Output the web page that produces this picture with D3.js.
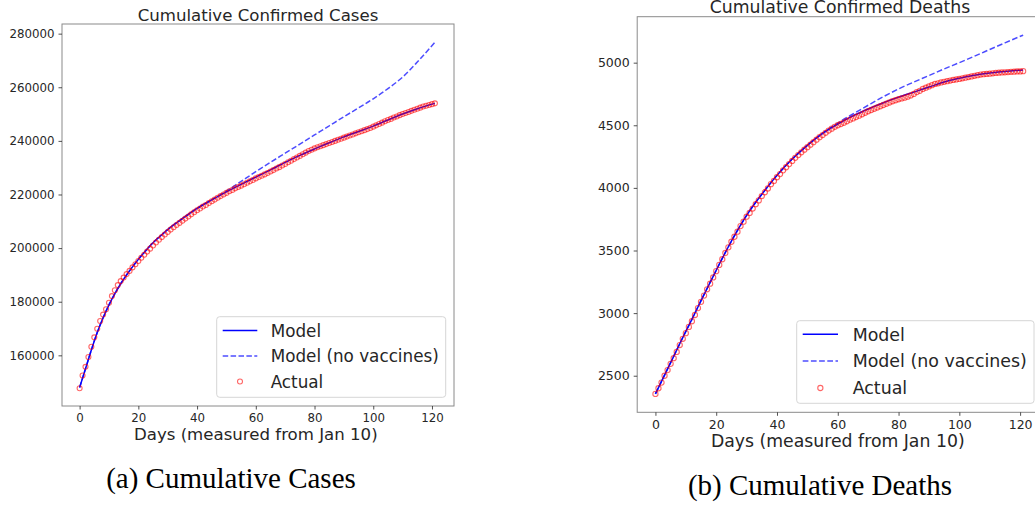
<!DOCTYPE html>
<html>
<head>
<meta charset="utf-8">
<script src="https://cdn.jsdelivr.net/npm/d3@7"></script>
<style>
  html, body { margin: 0; padding: 0; background: #fff; }
  svg { display: block; font-family: "DejaVu Sans", sans-serif; }
</style>
</head>
<body>
<svg id="chart" width="1035" height="505"></svg>
<script>
// ---- Cumulative confirmed cases ----
const casesModelDays = [0, 2, 4, 6, 8, 10, 12, 14, 16, 18, 20, 22, 25, 28, 31, 35, 40, 45, 50, 55, 60, 65, 70, 75, 80, 85, 90, 95, 100, 105, 110, 115, 121];
const casesModel = [148000, 155000, 162000, 168500, 174000, 178800, 183000, 186700, 190000, 193000, 195800, 198400, 202000, 205000, 207800, 211000, 214800, 218000, 221000, 223800, 226500, 229200, 232000, 234600, 237000, 239300, 241500, 243500, 245500, 247800, 250000, 252000, 254000];
const casesNoVax = [148000, 155000, 162000, 168500, 174000, 178800, 183000, 186700, 190000, 193000, 195800, 198400, 202000, 205000, 207800, 211000, 214800, 218000, 221300, 224900, 228500, 232000, 235400, 238800, 242200, 245600, 249000, 252300, 255700, 259500, 263800, 269400, 276800];
const casesActual = [
  147700, 152500, 155700, 159400, 163200, 166700, 169900, 172800, 175200, 177200,
  179600, 182100, 184300, 186200, 187700, 189000, 190300, 191500, 192800, 194000,
  195200, 196400, 197500, 198700, 199800, 201000, 202100, 203100, 204100, 205100,
  206000, 206900, 207800, 208600, 209400, 210200, 211000, 211800, 212600, 213400,
  214100, 214800, 215500, 216100, 216800, 217500, 218100, 218800, 219400, 220000,
  220600, 221200, 221700, 222300, 222800, 223300, 223800, 224400, 224900, 225400,
  226000, 226500, 227000, 227500, 228000, 228600, 229100, 229700, 230200, 230800,
  231400, 232000, 232600, 233200, 233800, 234400, 235000, 235600, 236200, 236700,
  237200, 237600, 238000, 238400, 238800, 239200, 239600, 240000, 240400, 240800,
  241200, 241600, 242000, 242400, 242800, 243200, 243600, 244000, 244400, 244800,
  245300, 245800, 246300, 246800, 247300, 247800, 248200, 248700, 249100, 249600,
  250000, 250400, 250800, 251200, 251600, 252000, 252400, 252800, 253100, 253400,
  253700, 254000
];
const casesTicks = [160000, 180000, 200000, 220000, 240000, 260000, 280000];

// ---- Cumulative confirmed deaths ----
const deathsModelDays = [0, 3, 6, 9, 12, 15, 18, 21, 24, 27, 30, 33, 36, 40, 45, 50, 55, 60, 65, 70, 75, 80, 85, 90, 95, 100, 105, 110, 115, 121];
const deathsModel = [2355, 2505, 2655, 2805, 2950, 3100, 3245, 3390, 3530, 3660, 3780, 3885, 3980, 4100, 4230, 4340, 4435, 4510, 4575, 4630, 4680, 4725, 4765, 4805, 4845, 4875, 4900, 4918, 4930, 4942];
const deathsNoVax = [2355, 2505, 2655, 2805, 2950, 3100, 3245, 3390, 3530, 3660, 3780, 3885, 3980, 4100, 4230, 4340, 4435, 4518, 4590, 4660, 4728, 4790, 4845, 4897, 4950, 5000, 5052, 5105, 5158, 5220];
const deathsActual = [
  2355, 2400, 2445, 2500, 2545, 2595, 2640, 2690, 2745, 2795,
  2840, 2890, 2935, 2985, 3040, 3090, 3140, 3190, 3235, 3285,
  3335, 3385, 3430, 3480, 3525, 3570, 3610, 3650, 3695, 3730,
  3770, 3800, 3835, 3870, 3900, 3935, 3965, 3995, 4030, 4055,
  4085, 4110, 4140, 4165, 4190, 4215, 4240, 4262, 4284, 4305,
  4325, 4345, 4365, 4385, 4405, 4422, 4440, 4458, 4473, 4488,
  4500, 4510, 4520, 4532, 4545, 4555, 4566, 4577, 4588, 4600,
  4612, 4622, 4632, 4642, 4652, 4662, 4672, 4682, 4692, 4700,
  4708, 4714, 4720, 4728, 4738, 4750, 4765, 4775, 4790, 4800,
  4810, 4820, 4830, 4835, 4842, 4847, 4852, 4857, 4862, 4866,
  4870, 4875, 4880, 4885, 4890, 4895, 4900, 4905, 4908, 4910,
  4912, 4915, 4918, 4920, 4922, 4923, 4925, 4927, 4928, 4930,
  4930, 4932
];
const deathsTicks = [2500, 3000, 3500, 4000, 4500, 5000];

const dayTicks = [0, 20, 40, 60, 80, 100, 120];
const seriesNames = ["Model", "Model (no vaccines)", "Actual"];

const svg = d3.select("#chart");
const ink = "#262626";

function panel(p) {
  const g = svg.append("g");
  const x = d3.scaleLinear().domain([-6, 127.5]).range([p.left, p.right]);
  const y = d3.scaleLinear().domain(p.yDomain).range([p.bottom, p.top]);

  const clipId = "clip-" + p.id;
  g.append("clipPath").attr("id", clipId)
    .append("rect").attr("x", p.left).attr("y", p.top)
    .attr("width", p.right - p.left).attr("height", p.bottom - p.top);

  const plot = g.append("g").attr("clip-path", `url(#${clipId})`);
  const line = d3.line().x(d => x(d[0])).y(d => y(d[1])).curve(d3.curveMonotoneX);

  plot.append("path")
    .datum(p.modelDays.map((d, i) => [d, p.model[i]]))
    .attr("d", line).attr("fill", "none")
    .attr("stroke", "#0000ff").attr("stroke-width", 1.5);

  plot.append("path")
    .datum(p.modelDays.map((d, i) => [d, p.noVax[i]]))
    .attr("d", line).attr("fill", "none")
    .attr("stroke", "#0000ff").attr("stroke-opacity", 0.7)
    .attr("stroke-width", 1.5).attr("stroke-dasharray", p.dash);

  plot.selectAll("circle.actual")
    .data(p.actual)
    .join("circle").attr("class", "actual")
    .attr("cx", (d, i) => x(i)).attr("cy", d => y(d))
    .attr("r", p.r).attr("fill", "none")
    .attr("stroke", "#ff0000").attr("stroke-opacity", 0.6).attr("stroke-width", 1.1);

  // frame
  g.append("rect")
    .attr("x", p.left).attr("y", p.top)
    .attr("width", p.right - p.left).attr("height", p.bottom - p.top)
    .attr("fill", "none").attr("stroke", "#8a8a8a").attr("stroke-width", 1);

  // axes
  const xAxis = d3.axisBottom(x).tickValues(dayTicks).tickSize(3.5).tickPadding(4).tickFormat(d3.format("d"));
  const gx = g.append("g").attr("transform", `translate(0,${p.bottom})`).call(xAxis);
  const yAxis = d3.axisLeft(y).tickValues(p.yTicks).tickSize(3.5).tickPadding(4).tickFormat(d3.format("d"));
  const gy = g.append("g").attr("transform", `translate(${p.left},0)`).call(yAxis);
  [gx, gy].forEach(a => {
    a.select(".domain").remove();
    a.selectAll(".tick line").attr("stroke", ink).attr("stroke-width", 0.8);
    a.selectAll(".tick text").attr("fill", ink)
      .style("font-family", "DejaVu Sans").style("font-size", p.tickFont + "px");
  });

  // titles
  g.append("text")
    .attr("x", (p.left + p.right) / 2).attr("y", p.titleY)
    .attr("text-anchor", "middle").attr("fill", ink)
    .style("font-size", p.labelFont + "px").text(p.title);
  g.append("text")
    .attr("x", x(60)).attr("y", p.xLabelY)
    .attr("text-anchor", "middle").attr("fill", ink)
    .style("font-size", p.labelFont + "px").text("Days (measured from Jan 10)");
  g.append("text")
    .attr("x", p.captionX).attr("y", p.captionY)
    .attr("text-anchor", "middle").attr("fill", "#000")
    .style("font-family", "'Liberation Serif', 'Times New Roman', serif")
    .style("font-size", "29px").text(p.caption);

  // legend
  const L = p.legend;
  const lg = g.append("g");
  lg.append("rect")
    .attr("x", L.x).attr("y", L.y).attr("width", L.w).attr("height", L.h)
    .attr("rx", 3).attr("fill", "#fff").attr("fill-opacity", 0.8)
    .attr("stroke", "#d6d6d6").attr("stroke-width", 1);
  seriesNames.forEach((name, i) => {
    const cy = L.rows[i];
    if (i < 2) {
      lg.append("line")
        .attr("x1", L.hx0).attr("x2", L.hx1).attr("y1", cy).attr("y2", cy)
        .attr("stroke", "#0000ff").attr("stroke-width", 1.5)
        .attr("stroke-opacity", i === 0 ? 1 : 0.7)
        .attr("stroke-dasharray", i === 0 ? null : p.dash);
    } else {
      lg.append("circle")
        .attr("cx", (L.hx0 + L.hx1) / 2).attr("cy", cy).attr("r", p.r)
        .attr("fill", "none").attr("stroke", "#ff0000")
        .attr("stroke-opacity", 0.6).attr("stroke-width", 1.1);
    }
    lg.append("text")
      .attr("x", L.tx).attr("y", cy).attr("dy", "0.36em")
      .attr("fill", ink).style("font-size", L.font + "px").text(name);
  });
}

panel({
  id: "cases", left: 62, right: 454, top: 24, bottom: 406,
  yDomain: [141100, 283600], yTicks: casesTicks,
  modelDays: casesModelDays, model: casesModel, noVax: casesNoVax, actual: casesActual,
  title: "Cumulative Confirmed Cases", titleY: 20.5, xLabelY: 439.5,
  caption: "(a) Cumulative Cases", captionX: 231, captionY: 488,
  tickFont: 11.8, labelFont: 16.6, dash: "5.5,2.4", r: 2.5,
  legend: { x: 216.7, y: 316.7, w: 229, h: 80.6, rows: [330.5, 356, 381.5],
            hx0: 222.7, hx1: 257.3, tx: 270.7, font: 16.8 }
});

panel({
  id: "deaths", left: 637.2, right: 1042.9, top: 16.7, bottom: 412.3,
  yDomain: [2208, 5367], yTicks: deathsTicks,
  modelDays: deathsModelDays, model: deathsModel, noVax: deathsNoVax, actual: deathsActual,
  title: "Cumulative Confirmed Deaths", titleY: 13, xLabelY: 446.5,
  caption: "(b) Cumulative Deaths", captionX: 820, captionY: 494.5,
  tickFont: 12.5, labelFont: 17.3, dash: "5.7,2.5", r: 2.6,
  legend: { x: 796.7, y: 320.7, w: 237.3, h: 82.6, rows: [334.3, 361, 388],
            hx0: 802.7, hx1: 838, tx: 852.7, font: 17.4 }
});
</script>
</body>
</html>
